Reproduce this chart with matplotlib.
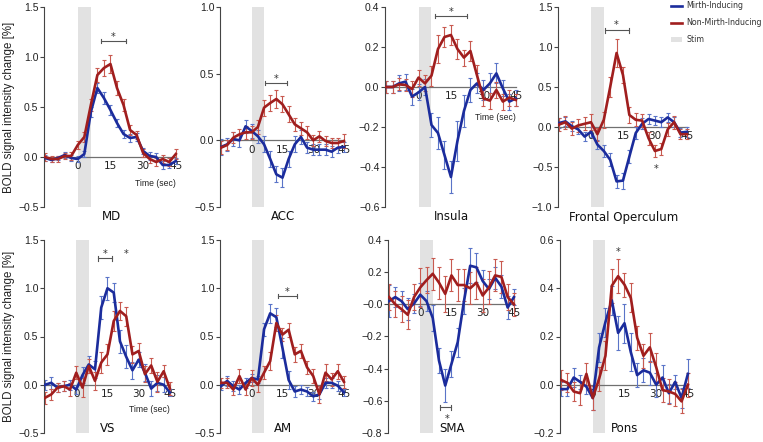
import numpy as np
import matplotlib
matplotlib.use('agg')
import matplotlib.pyplot as plt
from matplotlib.lines import Line2D
from matplotlib.patches import Patch
from matplotlib.ticker import FuncFormatter

# time axis (sec), one sample every 3 s
t = np.arange(-15, 46, 3)

md_mirth = [-0.01, -0.03, -0.01, 0.02, -0.01, -0.02, 0.03, 0.45, 0.69, 0.59, 0.47, 0.34, 0.23, 0.19, 0.2, 0.06, 0.01, 0.0, -0.08, -0.08, -0.04]
md_mirth_err = [0.03, 0.02, 0.02, 0.03, 0.03, 0.03, 0.03, 0.05, 0.05, 0.06, 0.05, 0.04, 0.04, 0.04, 0.04, 0.03, 0.04, 0.04, 0.04, 0.03, 0.03]
md_non = [0.0, -0.02, -0.02, 0.01, 0.01, 0.12, 0.2, 0.52, 0.82, 0.89, 0.93, 0.69, 0.52, 0.27, 0.22, 0.04, -0.02, -0.05, -0.02, -0.05, 0.03]
md_non_err = [0.04, 0.03, 0.03, 0.03, 0.04, 0.04, 0.05, 0.06, 0.07, 0.08, 0.09, 0.07, 0.06, 0.05, 0.04, 0.04, 0.04, 0.04, 0.04, 0.04, 0.05]

acc_mirth = [-0.05, -0.03, 0.01, 0.0, 0.105, 0.07, 0.03, -0.03, -0.14, -0.255, -0.28, -0.14, -0.03, 0.025, -0.055, -0.07, -0.07, -0.07, -0.085, -0.055, -0.05]
acc_mirth_err = [0.06, 0.05, 0.05, 0.05, 0.05, 0.05, 0.05, 0.06, 0.06, 0.06, 0.07, 0.06, 0.06, 0.05, 0.04, 0.04, 0.04, 0.04, 0.04, 0.04, 0.04]
acc_non = [-0.055, -0.035, 0.02, 0.045, 0.06, 0.06, 0.1, 0.245, 0.28, 0.31, 0.27, 0.195, 0.12, 0.09, 0.06, 0.0, 0.03, -0.005, -0.02, -0.02, -0.005]
acc_non_err = [0.05, 0.04, 0.04, 0.04, 0.05, 0.05, 0.05, 0.06, 0.06, 0.07, 0.06, 0.06, 0.05, 0.05, 0.05, 0.04, 0.04, 0.04, 0.04, 0.04, 0.05]

ins_mirth = [0.0, 0.0, 0.018, 0.027, -0.048, -0.027, 0.0, -0.19, -0.23, -0.34, -0.45, -0.27, -0.12, -0.015, 0.018, -0.015, 0.018, 0.068, -0.007, -0.073, -0.057]
ins_mirth_err = [0.03, 0.03, 0.04, 0.04, 0.04, 0.04, 0.04, 0.06, 0.08, 0.07, 0.08, 0.1, 0.08, 0.06, 0.05, 0.05, 0.05, 0.05, 0.04, 0.04, 0.04]
ins_non = [0.0, 0.0, 0.013, 0.01, -0.01, 0.047, 0.018, 0.057, 0.19, 0.25, 0.26, 0.19, 0.147, 0.18, 0.06, -0.057, -0.068, -0.015, -0.073, -0.053, -0.065]
ins_non_err = [0.03, 0.03, 0.03, 0.03, 0.04, 0.04, 0.04, 0.05, 0.07, 0.05, 0.05, 0.05, 0.04, 0.05, 0.05, 0.04, 0.04, 0.04, 0.04, 0.04, 0.03]

fo_mirth = [0.05, 0.07, 0.01, -0.03, -0.12, -0.06, -0.22, -0.3, -0.41, -0.68, -0.67, -0.37, -0.075, 0.04, 0.1, 0.08, 0.06, 0.12, 0.06, -0.07, -0.06]
fo_mirth_err = [0.06, 0.06, 0.06, 0.06, 0.06, 0.06, 0.06, 0.08, 0.08, 0.08, 0.1, 0.08, 0.08, 0.07, 0.06, 0.06, 0.06, 0.06, 0.06, 0.06, 0.06]
fo_non = [0.03, 0.06, -0.02, 0.02, 0.04, 0.06, -0.09, 0.09, 0.5, 0.925, 0.65, 0.15, 0.09, 0.08, -0.14, -0.3, -0.275, -0.03, 0.06, -0.09, -0.09]
fo_non_err = [0.08, 0.08, 0.08, 0.08, 0.08, 0.1, 0.08, 0.1, 0.12, 0.18, 0.1, 0.1, 0.08, 0.08, 0.08, 0.08, 0.08, 0.08, 0.08, 0.06, 0.06]

vs_mirth = [0.0, 0.02, -0.03, -0.015, 0.0, -0.05, 0.1, 0.21, 0.16, 0.8, 1.0, 0.955, 0.45, 0.29, 0.15, 0.26, 0.125, -0.04, 0.02, 0.0, -0.08]
vs_mirth_err = [0.05, 0.06, 0.05, 0.05, 0.05, 0.05, 0.08, 0.09, 0.09, 0.12, 0.12, 0.1, 0.12, 0.12, 0.09, 0.08, 0.09, 0.08, 0.08, 0.08, 0.04]
vs_non = [-0.135, -0.1, -0.03, -0.015, -0.05, 0.125, -0.03, 0.195, 0.04, 0.23, 0.315, 0.66, 0.765, 0.71, 0.315, 0.35, 0.11, 0.2, 0.03, 0.14, -0.04]
vs_non_err = [0.06, 0.06, 0.05, 0.05, 0.07, 0.07, 0.1, 0.07, 0.09, 0.11, 0.11, 0.1, 0.09, 0.1, 0.09, 0.08, 0.08, 0.08, 0.1, 0.06, 0.07]

am_mirth = [-0.015, 0.04, -0.015, -0.05, 0.02, 0.07, 0.055, 0.575, 0.74, 0.7, 0.38, 0.05, -0.07, -0.05, -0.07, -0.12, -0.1, 0.02, 0.02, -0.01, -0.08]
am_mirth_err = [0.04, 0.05, 0.05, 0.05, 0.05, 0.04, 0.04, 0.07, 0.1, 0.1, 0.1, 0.09, 0.06, 0.05, 0.05, 0.05, 0.05, 0.05, 0.05, 0.05, 0.04]
am_non = [0.02, 0.02, -0.05, 0.09, -0.05, 0.07, 0.0, 0.125, 0.245, 0.64, 0.52, 0.57, 0.315, 0.35, 0.18, 0.09, -0.1, 0.125, 0.055, 0.14, 0.03]
am_non_err = [0.05, 0.05, 0.06, 0.07, 0.06, 0.08, 0.07, 0.07, 0.09, 0.08, 0.07, 0.07, 0.08, 0.07, 0.07, 0.07, 0.09, 0.09, 0.07, 0.08, 0.06]

sma_mirth = [0.02, 0.045, 0.02, -0.03, 0.005, 0.06, 0.02, -0.085, -0.35, -0.505, -0.37, -0.235, 0.02, 0.24, 0.23, 0.145, 0.095, 0.165, 0.11, -0.02, 0.045]
sma_mirth_err = [0.1, 0.06, 0.06, 0.07, 0.06, 0.07, 0.06, 0.08, 0.08, 0.1, 0.08, 0.09, 0.08, 0.11, 0.09, 0.07, 0.06, 0.07, 0.07, 0.07, 0.05]
sma_non = [0.045, 0.0, -0.03, -0.065, 0.045, 0.105, 0.15, 0.19, 0.135, 0.065, 0.18, 0.12, 0.12, 0.1, 0.135, 0.055, 0.105, 0.18, 0.17, 0.045, 0.0]
sma_non_err = [0.08, 0.08, 0.08, 0.09, 0.08, 0.12, 0.08, 0.1, 0.1, 0.11, 0.1, 0.1, 0.1, 0.1, 0.1, 0.1, 0.1, 0.1, 0.1, 0.08, 0.07]

pons_mirth = [-0.018, -0.018, 0.03, 0.012, -0.008, -0.055, 0.155, 0.26, 0.35, 0.215, 0.255, 0.135, 0.04, 0.06, 0.05, 0.0, 0.03, -0.035, 0.012, -0.055, 0.045]
pons_mirth_err = [0.03, 0.03, 0.04, 0.03, 0.03, 0.05, 0.06, 0.06, 0.06, 0.07, 0.08, 0.08, 0.05, 0.05, 0.05, 0.05, 0.05, 0.04, 0.03, 0.04, 0.06]
pons_non = [0.02, 0.008, -0.028, -0.035, 0.045, -0.055, 0.025, 0.12, 0.41, 0.45, 0.415, 0.36, 0.195, 0.12, 0.155, 0.073, -0.022, -0.028, -0.038, -0.069, 0.0]
pons_non_err = [0.04, 0.04, 0.04, 0.05, 0.045, 0.05, 0.05, 0.06, 0.07, 0.07, 0.05, 0.06, 0.05, 0.05, 0.06, 0.06, 0.05, 0.05, 0.05, 0.05, 0.05]

titles = ['MD', 'ACC', 'Insula', 'Frontal Operculum', 'VS', 'AM', 'SMA', 'Pons']
yticks = [np.arange(-0.5, 1.51, 0.5), np.arange(-0.5, 1.01, 0.5), np.arange(-0.6, 0.41, 0.2),
          np.arange(-1.0, 1.51, 0.5), np.arange(-0.5, 1.51, 0.5), np.arange(-0.5, 1.51, 0.5),
          np.arange(-0.8, 0.41, 0.2), np.arange(-0.2, 0.61, 0.2)]
# significance brackets (start, end, y) and asterisks (x, y)
brackets = [[(10.5, 22, 1.16)], [(6.3, 17.4, 0.43)], [(7.8, 22.5, 0.355)], [(6.6, 17.8, 1.21)],
            [(10.5, 17.2, 1.31)], [(12.6, 22.2, 0.92)], [(9.5, 14.7, -0.64)], []]
stars = [[(16, 1.2)], [(12, 0.46)], [(15, 0.375)], [(12, 1.28), (30.5, -0.52)],
         [(14, 1.35), (24, 1.35)], [(17.4, 0.96)], [(12.8, -0.71)], [(12.2, 0.55)]]
time_label_y = [-0.27, None, -0.155, None, -0.26, None, None, None]

mirth = [md_mirth, acc_mirth, ins_mirth, fo_mirth, vs_mirth, am_mirth, sma_mirth, pons_mirth]
mirth_err = [md_mirth_err, acc_mirth_err, ins_mirth_err, fo_mirth_err, vs_mirth_err, am_mirth_err, sma_mirth_err, pons_mirth_err]
non = [md_non, acc_non, ins_non, fo_non, vs_non, am_non, sma_non, pons_non]
non_err = [md_non_err, acc_non_err, ins_non_err, fo_non_err, vs_non_err, am_non_err, sma_non_err, pons_non_err]

BLUE = '#1b2c9c'
RED = '#a01e1e'
BLUE_E = '#5a74c8'
RED_E = '#c85a50'

W, H = 763, 442
fig = plt.figure(figsize=(W / 100, H / 100), dpi=100)

# axes boxes in pixels: left, right, top, bottom
boxes = [(44, 178, 7, 207), (220, 346, 7, 207), (385, 518, 7, 207), (558, 689, 7, 207),
         (44, 172, 240, 433), (220, 346, 240, 433), (388, 516, 240, 433), (560, 690, 240, 433)]

fmt = FuncFormatter(lambda v, p: ('%.1f' % v).replace('-', '\u2212'))

for i in range(8):
    l, r, tp, b = boxes[i]
    ax = fig.add_axes([l / W, 1 - b / H, (r - l) / W, (b - tp) / H])
    ax.patch.set_alpha(0)
    ax.axvspan(0, 6, color='#e2e2e2', lw=0, zorder=0)
    ax.plot([-15.5, 45], [0, 0], color='#707070', lw=0.9, zorder=1)
    ax.errorbar(t, mirth[i], yerr=mirth_err[i], fmt='none', ecolor=BLUE_E, elinewidth=0.8,
                capsize=1.6, capthick=0.8, zorder=2)
    ax.errorbar(t, non[i], yerr=non_err[i], fmt='none', ecolor=RED_E, elinewidth=0.8,
                capsize=1.6, capthick=0.8, zorder=2)
    ax.plot(t, mirth[i], color=BLUE, lw=1.9, zorder=3)
    ax.plot(t, non[i], color=RED, lw=1.9, zorder=4)

    yt = yticks[i]
    ax.set_ylim(yt[0], yt[-1])
    ax.set_xlim(-15.5, 46)
    ax.set_yticks(yt)
    ax.yaxis.set_major_formatter(fmt)
    ax.tick_params(axis='y', length=3, width=0.8, color='#444444', labelsize=7.5, pad=1,
                   labelcolor='#222222')
    ax.set_xticks([0, 15, 30, 45])
    ax.tick_params(axis='x', length=0, labelsize=7.5, pad=3, labelcolor='#222222')
    for lab in ax.get_yticklabels():
        lab.set_fontfamily('Liberation Sans')
    for lab in ax.get_xticklabels():
        lab.set_fontfamily('DejaVu Sans')
    ax.spines['bottom'].set_position(('data', 0))
    ax.spines['bottom'].set_visible(False)
    ax.spines['top'].set_visible(False)
    ax.spines['right'].set_visible(False)
    ax.spines['left'].set_color('#444444')
    ax.spines['left'].set_linewidth(0.8)

    tick_h = 0.012 * (yt[-1] - yt[0])
    for x0, x1, yb in brackets[i]:
        ax.plot([x0, x1], [yb, yb], color='#555555', lw=0.8)
        ax.plot([x0, x0], [yb - tick_h, yb + tick_h], color='#555555', lw=0.8)
        ax.plot([x1, x1], [yb - tick_h, yb + tick_h], color='#555555', lw=0.8)
    for xs, ys in stars[i]:
        ax.text(xs, ys, '*', ha='center', va='center', fontsize=7, color='#333333')
    if time_label_y[i] is not None:
        ax.text(45, time_label_y[i], 'Time (sec)', ha='right', va='center', fontsize=6.2,
                family='Liberation Sans', color='#222222')

    ty = 217 if i < 4 else 429
    fig.text((l + r) / 2 / W, 1 - ty / H, titles[i], ha='center', va='center', fontsize=8.5,
             family='DejaVu Sans', color='#111111')

for yc in [(7 + 207) / 2, (240 + 433) / 2]:
    fig.text(9 / W, 1 - yc / H, 'BOLD signal intensity change [%]', rotation=90, ha='center',
             va='center', fontsize=8.3, family='Liberation Sans', color='#222222')

handles = [Line2D([], [], color=BLUE, lw=1.9), Line2D([], [], color=RED, lw=1.9),
           Patch(facecolor='#e2e2e2', edgecolor='none')]
fig.legend(handles, ['Mirth-Inducing', 'Non-Mirth-Inducing', 'Stim'], loc='upper left',
           bbox_to_anchor=(671 / W, 1 - 1.5 / H), frameon=False, handlelength=1.45,
           handletextpad=0.5, labelspacing=1.0, borderaxespad=0, borderpad=0,
           labelcolor='#333333', prop={'family': 'DejaVu Sans', 'size': 5.7})

fig.savefig('out.png', dpi=100)
